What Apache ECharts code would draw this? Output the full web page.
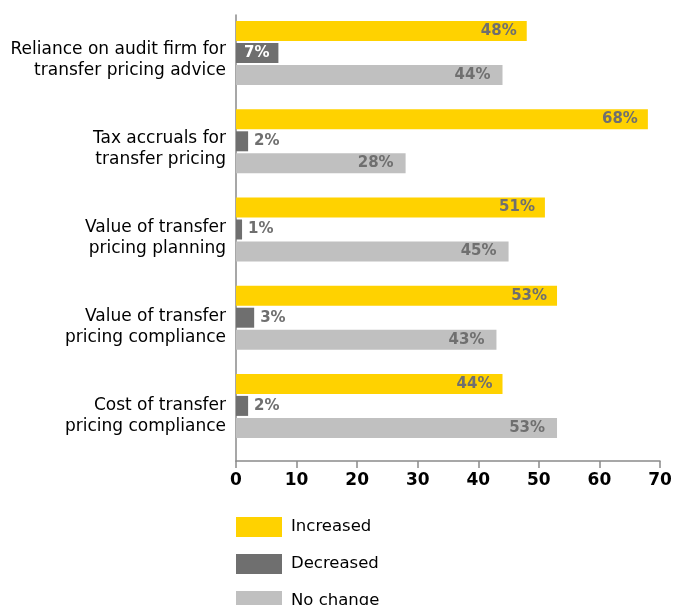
<!DOCTYPE html>
<html>
<head>
<meta charset="utf-8">
<script src="https://cdn.jsdelivr.net/npm/echarts@6/dist/echarts.min.js"></script>
<style>
  html, body { margin: 0; padding: 0; background: #fff; }
  #chart { width: 676px; height: 605px; }
</style>
</head>
<body>
<div id="chart"></div>
<script>
// categories top to bottom
const categories = [
  'Reliance on audit firm for\ntransfer pricing advice',
  'Tax accruals for\ntransfer pricing',
  'Value of transfer\npricing planning',
  'Value of transfer\npricing compliance',
  'Cost of transfer\npricing compliance'
];
const increased = [48, 68, 51, 53, 44];
const decreased = [7, 2, 1, 3, 2];
const noChange = [44, 28, 45, 43, 53];
const seriesNames = ['Increased', 'Decreased', 'No change'];
const colors = ['#ffd200', '#6f6f6f', '#c0c0c0'];
const xTicks = { min: 0, max: 70, interval: 10 };

const chart = echarts.init(document.getElementById('chart'));

const FONT = 'DejaVu Sans';
const labelFont = {
  fontFamily: FONT,
  fontWeight: 'bold',
  fontSize: 15,
  color: '#6f6f6f'
};

// small dark bars get their label outside, except the 7% one which sits inside in white
const decreasedData = decreased.map(v => v >= 5
  ? { value: v, label: { position: 'insideLeft', distance: 8, color: '#fff' } }
  : v);

const axisColor = '#8a8a8a';

const option = {
  animation: false,
  color: colors,
  // grid 0 holds the bars, grid 1 draws the frame axes and category names (slightly lower, like the original)
  grid: [
    { left: 236, right: 16, top: 9, bottom: 155 },
    { left: 236, right: 16, top: 15, bottom: 144 }
  ],
  legend: {
    orient: 'vertical',
    left: 236,
    top: 517,
    height: 120,
    padding: 0,
    itemWidth: 46,
    itemHeight: 20,
    itemGap: 17,
    icon: 'rect',
    data: seriesNames,
    textStyle: { fontFamily: FONT, fontSize: 16.5, color: '#000', padding: [0, 0, 0, 4] }
  },
  xAxis: [
    {
      gridIndex: 0,
      type: 'value',
      ...xTicks,
      axisLine: { show: false },
      axisTick: { show: false },
      axisLabel: { show: false },
      splitLine: { show: false }
    },
    {
      gridIndex: 1,
      type: 'value',
      ...xTicks,
      axisLine: { show: true, lineStyle: { color: axisColor, width: 1.5 } },
      axisTick: { show: true, length: 7, lineStyle: { color: axisColor, width: 1.5 } },
      axisLabel: { fontFamily: FONT, fontWeight: 'bold', fontSize: 17, color: '#000', margin: 11 },
      splitLine: { show: false }
    }
  ],
  yAxis: [
    {
      gridIndex: 0,
      type: 'category',
      data: categories,
      inverse: true,
      axisLine: { show: false },
      axisTick: { show: false },
      axisLabel: { show: false }
    },
    {
      gridIndex: 1,
      type: 'category',
      data: categories,
      inverse: true,
      axisLine: { show: true, lineStyle: { color: axisColor, width: 1.5 } },
      axisTick: { show: false },
      axisLabel: {
        fontFamily: FONT,
        fontSize: 17,
        color: '#000',
        lineHeight: 21,
        align: 'right',
        margin: 10
      }
    }
  ],
  series: [
    {
      name: seriesNames[0],
      type: 'bar',
      data: increased,
      barWidth: 20,
      barGap: '10%',
      label: { show: true, position: 'insideRight', distance: 10, formatter: '{c}%', ...labelFont }
    },
    {
      name: seriesNames[1],
      type: 'bar',
      data: decreasedData,
      barWidth: 20,
      barGap: '10%',
      label: { show: true, position: 'right', distance: 6, formatter: '{c}%', ...labelFont }
    },
    {
      name: seriesNames[2],
      type: 'bar',
      data: noChange,
      barWidth: 20,
      barGap: '10%',
      label: { show: true, position: 'insideRight', distance: 12, formatter: '{c}%', ...labelFont }
    }
  ]
};

chart.setOption(option);
</script>
</body>
</html>
